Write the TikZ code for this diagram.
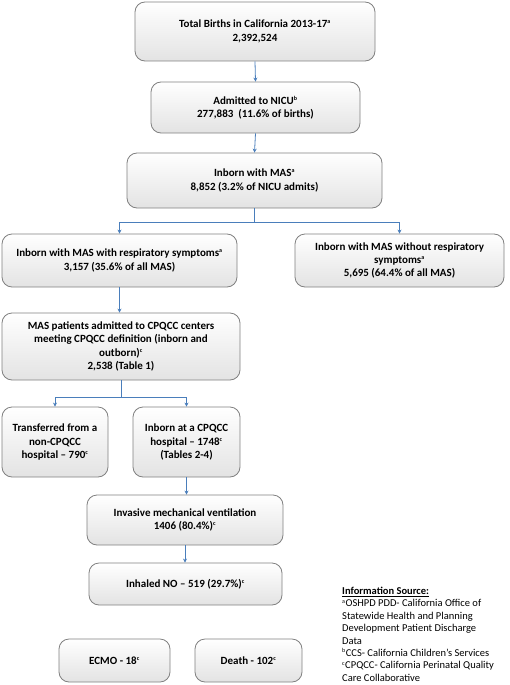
\documentclass[tikz,border=0pt]{standalone}
\usepackage{fontspec}
\setmainfont{Carlito}
\usetikzlibrary{arrows.meta,calc}
\definecolor{conncol}{RGB}{74,126,187}
\definecolor{boxline}{RGB}{128,128,128}
\newcommand{\sps}[1]{\textsuperscript{\fontsize{6}{6}\selectfont #1}}
\begin{document}
\begin{tikzpicture}[x=1pt,y=-1pt,
  fbox/.style={draw=boxline,line width=0.8pt,rounded corners=10pt,top color=white,bottom color=black!11,
    align=center,font=\fontsize{11}{13.3}\selectfont\bfseries,inner sep=2pt},
  conn/.style={draw=conncol,line width=0.8pt,-{Stealth[length=4pt,width=4pt]}},
  plain/.style={draw=conncol,line width=0.8pt}]
\useasboundingbox (0,0) rectangle (509,685);
\node[fbox,minimum width=240pt,minimum height=59pt] (b1) at (255,31.5) {Total Births in California 2013-17\sps{a}\\2,392,524};
\node[fbox,minimum width=209pt,minimum height=51pt] (b2) at (255.5,107.5) {Admitted to NICU\sps{b}\\277,883\ \ (11.6\% of births)};
\node[fbox,minimum width=255pt,minimum height=55pt] (b3) at (254.5,180.5) {Inborn with MAS\sps{a}\\8,852 (3.2\% of NICU admits)};
\node[fbox,minimum width=235pt,minimum height=53pt] (b4) at (119.5,260.5) {Inborn with MAS with respiratory symptoms\sps{a}\\3,157 (35.6\% of all MAS)};
\node[fbox,minimum width=209pt,minimum height=53pt] (b5) at (399.5,260.5) {Inborn with MAS without respiratory\\symptoms\sps{a}\\5,695 (64.4\% of all MAS)};
\node[fbox,minimum width=238pt,minimum height=67pt] (b6) at (121,346.5) {MAS patients admitted to CPQCC centers\\meeting CPQCC definition (inborn and\\outborn)\sps{c}\\2,538 (Table 1)};
\node[fbox,minimum width=106pt,minimum height=70pt] (b7) at (55,442) {Transferred from a\\non-CPQCC\\hospital -- 790\sps{c}};
\node[fbox,minimum width=107pt,minimum height=70pt] (b8) at (186.5,442) {Inborn at a CPQCC\\hospital -- 1748\sps{c}\\(Tables 2-4)};
\node[fbox,minimum width=196pt,minimum height=50pt] (b9) at (185,520) {Invasive mechanical ventilation\\1406 (80.4\%)\sps{c}};
\node[fbox,minimum width=193pt,minimum height=42pt] (b10) at (185.5,584) {Inhaled NO -- 519 (29.7\%)\sps{c}};
\node[fbox,minimum width=111pt,minimum height=43pt] (b11) at (114.5,660.5) {ECMO - 18\sps{c}};
\node[fbox,minimum width=107pt,minimum height=43pt] (b12) at (248.5,660.5) {Death - 102\sps{c}};
\node[anchor=north west,align=left,inner sep=0pt,font=\fontsize{10.5}{12.4}\selectfont] (info) at (342,587)
 {\textbf{\underline{Information Source:}}\\
  \sps{a}OSHPD PDD- California Office of\\
  Statewide Health and Planning\\
  Development Patient Discharge\\
  Data\\
  \sps{b}CCS- California Children’s Services\\
  \sps{c}CPQCC- California Perinatal Quality\\
  Care Collaborative};
\draw[conn] (b1.south) -- (b2.north);
\draw[conn] (b2.south) -- (b3.north);
\coordinate (j1) at (b3.south |- 0,222);
\draw[plain] (b3.south) -- (j1);
\draw[conn] (j1) -| (b4.north);
\draw[conn] (j1) -| (b5.north);
\draw[conn] (b4.south) -- (b4.south |- b6.north);
\coordinate (j2) at (b6.south |- 0,397);
\draw[plain] (b6.south) -- (j2);
\draw[conn] (j2) -| (b7.north);
\draw[conn] (j2) -| (b8.north);
\draw[conn] (b8.south) -- (b8.south |- b9.north);
\draw[conn] (b9.south) -- (b9.south |- b10.north);
\end{tikzpicture}
\end{document}
